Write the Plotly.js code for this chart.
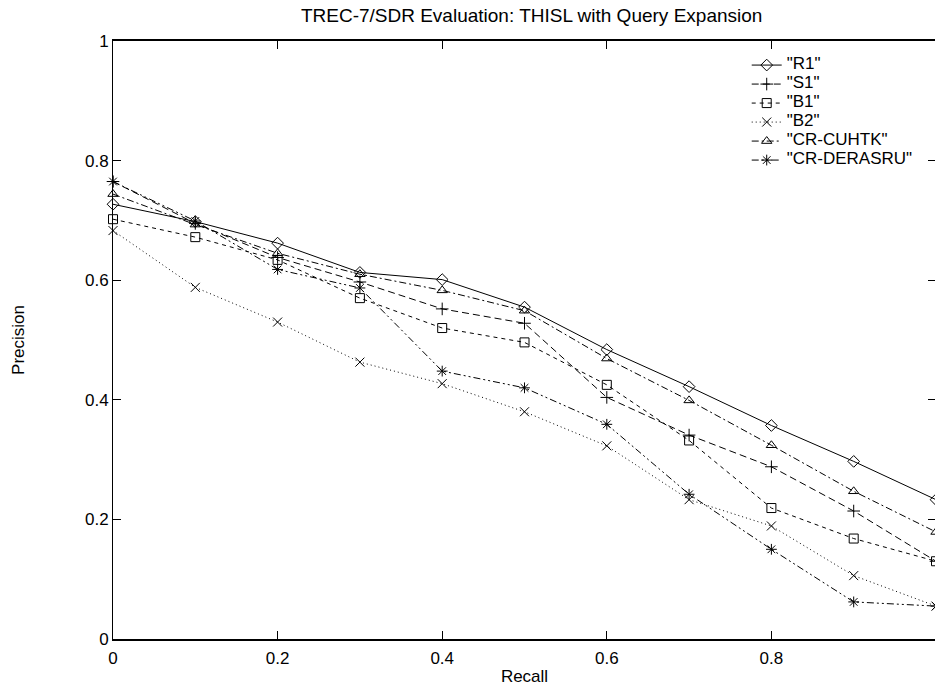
<!DOCTYPE html>
<html>
<head>
<meta charset="utf-8">
<script src="https://cdn.plot.ly/plotly-3.0.1.min.js"></script>
<style>
html,body{margin:0;padding:0;background:#fff;overflow:hidden;}
#chart{width:935px;height:686px;}
</style>
</head>
<body>
<div id="chart"></div>
<script>
const recall = [0, 0.1, 0.2, 0.3, 0.4, 0.5, 0.6, 0.7, 0.8, 0.9, 1.0];
const seriesNames = ['"R1"', '"S1"', '"B1"', '"B2"', '"CR-CUHTK"', '"CR-DERASRU"'];
const R1 = [0.727, 0.698, 0.662, 0.613, 0.601, 0.555, 0.484, 0.422, 0.357, 0.297, 0.233];
const S1 = [0.765, 0.695, 0.638, 0.597, 0.552, 0.528, 0.404, 0.341, 0.288, 0.214, 0.130];
const B1 = [0.702, 0.672, 0.634, 0.570, 0.520, 0.496, 0.425, 0.332, 0.219, 0.168, 0.130];
const B2 = [0.683, 0.588, 0.530, 0.463, 0.427, 0.380, 0.323, 0.233, 0.189, 0.106, 0.055];
const CUHTK = [0.744, 0.693, 0.645, 0.610, 0.583, 0.549, 0.469, 0.399, 0.324, 0.247, 0.179];
const DERASRU = [0.765, 0.699, 0.618, 0.587, 0.448, 0.420, 0.359, 0.242, 0.150, 0.062, 0.055];
const xTicks = [0, 0.2, 0.4, 0.6, 0.8, 1];
const xTickText = ['0', '0.2', '0.4', '0.6', '0.8', '1'];
const yTicks = [0, 0.2, 0.4, 0.6, 0.8, 1];
const yTickText = ['0', '0.2', '0.4', '0.6', '0.8', '1'];

const values = [R1, S1, B1, B2, CUHTK, DERASRU];
const symbols = ['diamond-open', 'cross-thin-open', 'square-open', 'x-thin-open', 'triangle-up-open', 'asterisk-open'];
const dashes = ['solid', '7px,4px', '4px,4px', '1px,3px', '7px,3px,2px,3px', '7px,3px,2px,3px,2px,3px'];
const sizes = [9, 9, 9, 9, 9, 9];

const traces = values.map((v, i) => ({
  x: recall,
  y: v,
  name: '<span style="font-size:17px">' + seriesNames[i] + '</span>',
  type: 'scatter',
  mode: 'lines+markers',
  line: {color: '#000', width: 1, dash: dashes[i]},
  marker: {symbol: symbols[i], size: sizes[i], color: '#000', line: {color: '#000', width: 1}},
  cliponaxis: false
}));

const fam = 'Liberation Sans, Arial, sans-serif';

const layout = {
  width: 936,
  height: 686,
  margin: {l: 113, r: 0, t: 41, b: 47},
  paper_bgcolor: '#fff',
  plot_bgcolor: '#fff',
  font: {family: fam, size: 17, color: '#000'},
  showlegend: true,
  title: {text: 'TREC-7/SDR Evaluation: THISL with Query Expansion', font: {family: fam, size: 19, color: '#000'}, x: 0.568, xanchor: 'center', y: 0.977, yanchor: 'middle', yref: 'container'},
  xaxis: {
    range: [0, 1],
    tickvals: xTicks, ticktext: xTickText,
    ticks: 'inside', ticklen: 8, tickwidth: 1, tickcolor: '#000',
    showline: true, linecolor: '#000', linewidth: 2, mirror: 'ticks',
    showgrid: false, zeroline: false,
    ticklabelstandoff: 3,
    tickfont: {family: fam, size: 17, color: '#000'},
    title: {text: 'Recall', font: {family: fam, size: 17, color: '#000'}, standoff: 4}
  },
  yaxis: {
    range: [0, 1],
    tickvals: yTicks, ticktext: yTickText,
    ticks: 'inside', ticklen: 8, tickwidth: 1, tickcolor: '#000',
    showline: true, linecolor: '#000', linewidth: 1, mirror: 'ticks',
    showgrid: false, zeroline: false,
    tickfont: {family: fam, size: 17, color: '#000'},
    title: {text: 'Precision', font: {family: fam, size: 17, color: '#000'}, standoff: 56}
  },
  legend: {
    x: 0.77, xanchor: 'left', y: 0.984, yanchor: 'top',
    bgcolor: 'rgba(0,0,0,0)', borderwidth: 0,
    font: {family: fam, size: 11, color: '#000'},
    itemwidth: 30, tracegroupgap: 0
  }
};

Plotly.newPlot('chart', traces, layout, {displayModeBar: false, staticPlot: true});
</script>
</body>
</html>
